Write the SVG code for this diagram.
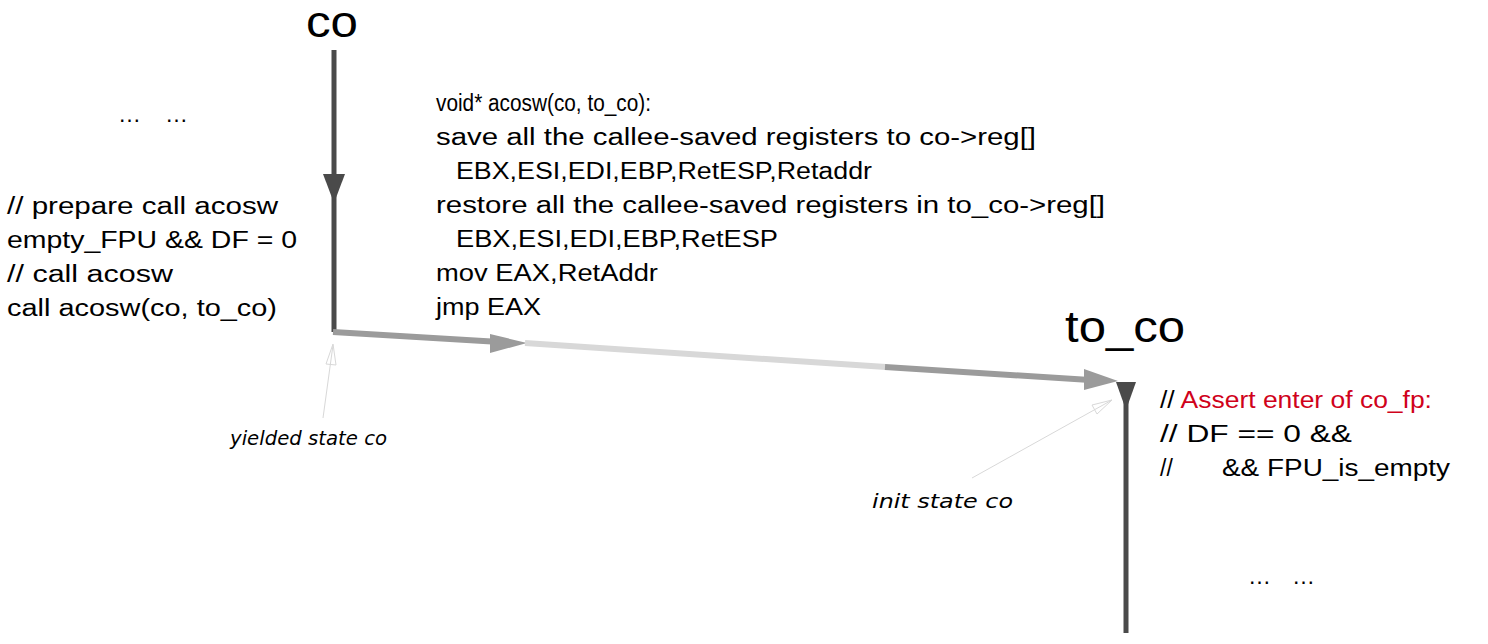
<svg xmlns="http://www.w3.org/2000/svg" width="1488" height="644" viewBox="0 0 1488 644">
<defs>
<style>
.code{font-family:"Liberation Sans",Arial,sans-serif;font-size:23px;fill:#000}
.big{font-family:"Liberation Sans",Arial,sans-serif;font-size:44px;fill:#000}
.hand{font-family:"DejaVu Sans",sans-serif;font-style:italic;font-size:19px;fill:#000}
.red{fill:#d0021b}
.dark{stroke:#4a4a4a;stroke-width:5;fill:none}
.gray{stroke:#9b9b9b;stroke-width:6;fill:none}
.light{stroke:#d8d8d8;stroke-width:6;fill:none}
.ptr{stroke:#d8d8d8;stroke-width:1;fill:none}
</style>
</defs>
<rect width="1488" height="644" fill="#fff"/>
<g id="connectors">
<line class="dark" x1="334" y1="50" x2="334" y2="332"/>
<polygon points="323,174 345,174 334,203" fill="#4a4a4a"/>
<line class="gray" x1="333" y1="332" x2="500" y2="342"/>
<polygon points="490,334 527,343 490,353" fill="#9b9b9b"/>
<line class="light" x1="525" y1="343" x2="886" y2="367"/>
<line class="gray" x1="885" y1="367" x2="1090" y2="380"/>
<polygon points="1084,369 1118,381 1084,390" fill="#9b9b9b"/>
<line class="dark" x1="1126" y1="383" x2="1126" y2="633"/>
<polygon points="1116,382 1136,382 1126,410" fill="#4a4a4a"/>
<line class="ptr" x1="323" y1="418" x2="333" y2="345"/>
<polygon class="ptr" points="333,344 326,364 336,365"/>
<line class="ptr" x1="972" y1="478" x2="1112" y2="400"/>
<polygon class="ptr" points="1112,400 1092,405 1097,414"/>
</g>
<g id="co">
<text class="big" x="306" y="37" textLength="52" lengthAdjust="spacingAndGlyphs">co</text>
</g>
<g id="to_co">
<text class="big" x="1065" y="342" textLength="120" lengthAdjust="spacingAndGlyphs">to_co</text>
</g>
<g id="caller-code">
<text class="code" x="118" y="122" textLength="70" lengthAdjust="spacing">… …</text>
<text class="code" x="7" y="214" textLength="271" lengthAdjust="spacingAndGlyphs">// prepare call acosw</text>
<text class="code" x="7" y="248" textLength="290" lengthAdjust="spacingAndGlyphs">empty_FPU &amp;&amp; DF = 0</text>
<text class="code" x="7" y="282" textLength="166" lengthAdjust="spacingAndGlyphs">// call acosw</text>
<text class="code" x="7" y="316" textLength="270" lengthAdjust="spacingAndGlyphs">call acosw(co, to_co)</text>
</g>
<g id="acosw-code">
<text class="code" x="436" y="111" textLength="215" lengthAdjust="spacingAndGlyphs">void* acosw(co, to_co):</text>
<text class="code" x="436" y="145" textLength="600" lengthAdjust="spacingAndGlyphs">save all the callee-saved registers to co-&gt;reg[]</text>
<text class="code" x="456" y="179" textLength="416" lengthAdjust="spacingAndGlyphs">EBX,ESI,EDI,EBP,RetESP,Retaddr</text>
<text class="code" x="436" y="213" textLength="669" lengthAdjust="spacingAndGlyphs">restore all the callee-saved registers in to_co-&gt;reg[]</text>
<text class="code" x="456" y="247" textLength="322" lengthAdjust="spacingAndGlyphs">EBX,ESI,EDI,EBP,RetESP</text>
<text class="code" x="436" y="281" textLength="222" lengthAdjust="spacingAndGlyphs">mov EAX,RetAddr</text>
<text class="code" x="436" y="315" textLength="105" lengthAdjust="spacingAndGlyphs">jmp EAX</text>
</g>
<g id="callee-code">
<text class="code" x="1160" y="408" textLength="272" lengthAdjust="spacingAndGlyphs">// <tspan class="red">Assert enter of co_fp:</tspan></text>
<text class="code" x="1160" y="442" textLength="192" lengthAdjust="spacingAndGlyphs">// DF == 0 &amp;&amp;</text>
<text class="code" x="1160" y="476">//<tspan x="1222" textLength="228" lengthAdjust="spacingAndGlyphs">&amp;&amp; FPU_is_empty</tspan></text>
<text class="code" x="1248" y="584" textLength="67" lengthAdjust="spacing">… …</text>
</g>
<g id="labels">
<text class="hand" x="230" y="445" textLength="157" lengthAdjust="spacingAndGlyphs">yielded state co</text>
<text class="hand" x="872" y="508" textLength="141" lengthAdjust="spacingAndGlyphs">init state co</text>
</g>
</svg>
